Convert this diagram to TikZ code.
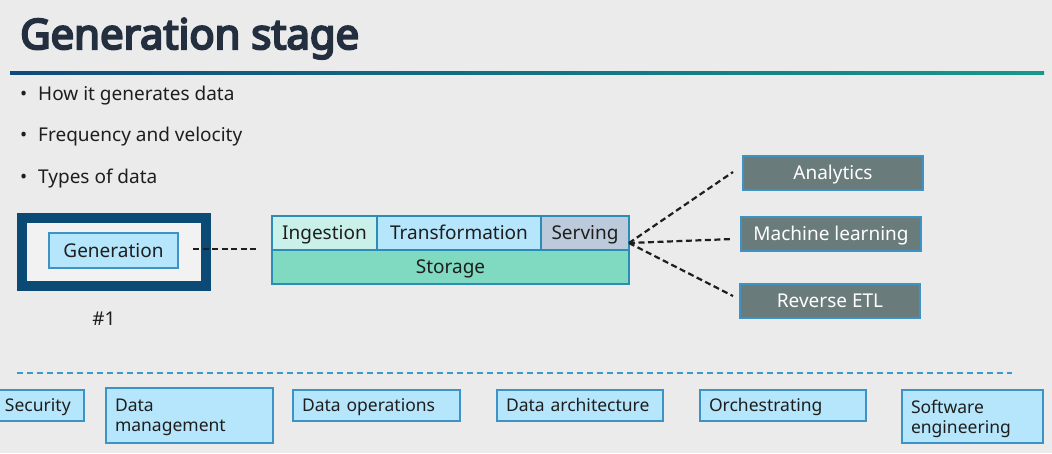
\documentclass[tikz,border=0pt]{standalone}
\usepackage{fontspec}
\setmainfont{Noto Sans}
\newfontfamily\titlefont{Noto Sans}[FakeBold=5]
\usetikzlibrary{calc}
\definecolor{bgc}{HTML}{EBEBEB}
\definecolor{titlec}{HTML}{232F3E}
\definecolor{navy}{HTML}{0B4A75}
\definecolor{hdrA}{HTML}{0E4A7C}
\definecolor{hdrB}{HTML}{16998A}
\definecolor{cyanf}{HTML}{B5E6FB}
\definecolor{cyanb}{HTML}{3E93C6}
\definecolor{mintf}{HTML}{C9F1E9}
\definecolor{servf}{HTML}{BCCADB}
\definecolor{storf}{HTML}{80D9C1}
\definecolor{pipeb}{HTML}{2B8CB5}
\definecolor{grayf}{HTML}{6A7B7B}
\definecolor{txt}{HTML}{1E1E1E}
\definecolor{dashblue}{HTML}{3A9BC8}
\tikzset{
  bodyfont/.style={font=\fontsize{19}{22}\selectfont, text=txt},
  capbox/.style={text height=13.5pt, text depth=0pt},
  pipebox/.style={draw=pipeb, line width=1.3pt, minimum height=34pt, inner sep=0pt, bodyfont, capbox},
  outbox/.style={draw=cyanb, line width=1.3pt, fill=grayf, minimum width=180pt, minimum height=34pt, inner sep=0pt, font=\fontsize{19}{22}\selectfont, text=white, capbox},
  botbox/.style={draw=cyanb, line width=1.2pt, fill=cyanf, inner xsep=9pt, inner ysep=0pt, align=left, font=\fontsize{17.5}{20}\selectfont, text=txt},
  oneline/.style={text height=12.5pt, text depth=0pt, minimum height=31pt},
  twoline/.style={text depth=20pt},
  blackdash/.style={draw=txt, line width=2.2pt, dash pattern=on 6pt off 3.5pt},
  bluedash/.style={draw=dashblue, line width=1.8pt, dash pattern=on 6pt off 4pt},
}
\begin{document}
\begin{tikzpicture}[x=1pt, y=-1pt]
\useasboundingbox (0,0) rectangle (1052,453);
\fill[bgc] (0,0) rectangle (1052,453);
% title
\node[anchor=base west, inner sep=0pt, font=\titlefont\fontsize{41.8}{48}\selectfont, text=titlec] (title) at (20,49) {Generation stage};
\shade[left color=hdrA, right color=hdrB] (10,71) rectangle (1044,74);
% bullets
\foreach \yy/\tt/\nm in {100/How it generates data/b1, 141/Frequency and velocity/b2, 183/Types of data/b3}{
  \node[anchor=base west, inner sep=0pt, bodyfont] (\nm dot) at (20,\yy) {•};
  \node[anchor=base west, inner sep=0pt, bodyfont] (\nm) at (38,\yy) {\tt};
}
% generation frame
\node[draw=navy, line width=10pt, fill=black!5, minimum width=184pt, minimum height=68pt, inner sep=0pt] (frame) at (114,252) {};
\node[draw=cyanb, line width=1.3pt, fill=cyanf, minimum width=129pt, minimum height=35pt, inner sep=0pt, bodyfont, capbox] (gen) at (113.5,250.5) {Generation};
\node[bodyfont, inner sep=0pt] (num) at (104,319) {\#1};
\coordinate (g1) at (193,249);
\coordinate (g2) at (258,249);
\draw[blackdash] (g1) -- (g2);
% pipeline
\node[pipebox, fill=mintf, minimum width=105pt] (ing) at (324.5,233) {Ingestion};
\node[pipebox, fill=cyanf, minimum width=164pt] (trans) at (459,233) {Transformation};
\node[pipebox, fill=servf, minimum width=88pt] (serv) at (585,233) {Serving};
\node[pipebox, fill=storf, minimum width=357pt] (stor) at (450.5,267) {Storage};
% outputs
\node[outbox] (ana) at (833,173) {Analytics};
\node[outbox] (ml) at (831,234) {Machine learning};
\node[outbox] (retl) at (830,301) {Reverse ETL};
\coordinate (apex) at (629,243);
\coordinate (ea) at (733,172);
\coordinate (em) at (733,239);
\coordinate (er) at (733,296);
\draw[blackdash] (apex) -- (ea);
\draw[blackdash] (apex) -- (em);
\draw[blackdash] (apex) -- (er);
% bottom
\coordinate (l1) at (17,373);
\coordinate (l2) at (1012,373);
\draw[bluedash] (l1) -- (l2);
\node[botbox, oneline, text width=70pt] (sec) at (40,405.5) {Security};
\node[botbox, twoline, text width=149pt, minimum height=55pt] (dm) at (189.5,415.5) {Data\\management};
\node[botbox, oneline, text width=149pt] (dops) at (376.5,405.5) {Data operations};
\node[botbox, oneline, text width=148pt] (darch) at (580,405.5) {Data architecture};
\node[botbox, oneline, text width=148pt] (orch) at (783,405.5) {Orchestrating};
\node[botbox, twoline, text width=123pt, minimum height=53pt] (swe) at (972.5,416.5) {Software\\engineering};
\end{tikzpicture}
\end{document}
